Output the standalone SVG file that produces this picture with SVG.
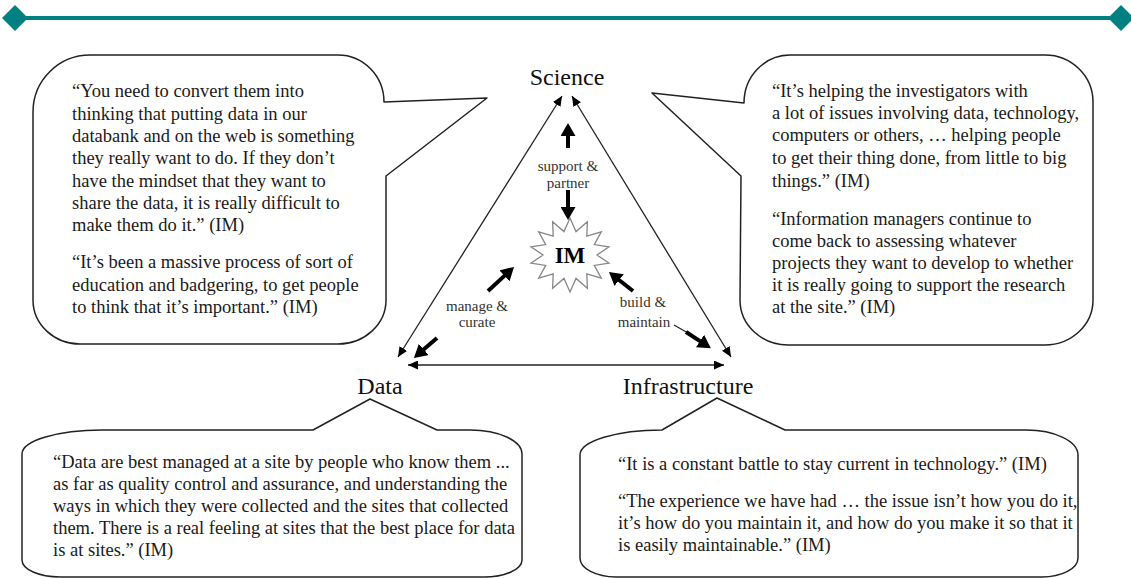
<svg xmlns="http://www.w3.org/2000/svg" width="1131" height="578" viewBox="0 0 1131 578">
<defs>
<style>
.callout{fill:#fff;stroke:#222;stroke-width:1.5;stroke-linejoin:round}
.q{font-family:"Liberation Serif","Times New Roman",serif;font-size:18.5px;fill:#1a1a1a}
.lbl{font-family:"Liberation Serif","Times New Roman",serif;font-size:24px;fill:#111;text-anchor:middle}
.sm{font-family:"Liberation Serif","Times New Roman",serif;font-size:15px;fill:#333;text-anchor:middle}
.thin{stroke:#222;stroke-width:1.3;fill:none}
.thick{stroke:#000;stroke-width:4;fill:none}
</style>
<marker id="ah" viewBox="0 0 10 9" refX="10" refY="4.5" markerWidth="10" markerHeight="9" markerUnits="userSpaceOnUse" orient="auto-start-reverse">
<path d="M0,0 L10,4.5 L0,9 z" fill="#000"/>
</marker>
<marker id="big" viewBox="0 0 13 15" refX="1" refY="7.5" markerWidth="13" markerHeight="15" markerUnits="userSpaceOnUse" orient="auto">
<path d="M0,0 L13,7.5 L0,15 z" fill="#000"/>
</marker>
</defs>
<rect width="1131" height="578" fill="#fff"/>
<g id="header">
<line x1="15" y1="18" x2="1121" y2="18" stroke="#008080" stroke-width="4"/>
<polygon points="15,5 28,18 15,31 2,18" fill="#008080"/>
<polygon points="1121,5 1134,18 1121,31 1108,18" fill="#008080"/>
</g>
<g id="callout-science-left">
<path class="callout" d="M90,55 L338,55 A46,47 0 0 1 384,102 L487,98 L386,176 L386,300 A48,44 0 0 1 338,344 L80,344 A47,44 0 0 1 33,300 L33,112 A57,57 0 0 1 90,55 Z"/>
<text class="q" x="72" y="97">“You need to convert them into</text>
<text class="q" x="72" y="119.5">thinking that putting data in our</text>
<text class="q" x="72" y="142">databank and on the web is something</text>
<text class="q" x="72" y="164">they really want to do. If they don’t</text>
<text class="q" x="72" y="186.5">have the mindset that they want to</text>
<text class="q" x="72" y="209">share the data, it is really difficult to</text>
<text class="q" x="72" y="231">make them do it.” (IM)</text>
<text class="q" x="72" y="268">“It’s been a massive process of sort of</text>
<text class="q" x="72" y="290.5">education and badgering, to get people</text>
<text class="q" x="72" y="313">to think that it’s important.” (IM)</text>
</g>
<g id="callout-science-right">
<path class="callout" d="M790,55 L1045,55 A48,47 0 0 1 1093,102 L1093,300 A48,45 0 0 1 1045,345 L788,345 A48,45 0 0 1 740,300 L741,176 L652,93 L744,103 A46,48 0 0 1 790,55 Z"/>
<text class="q" x="772" y="97">“It’s helping the investigators with</text>
<text class="q" x="772" y="119">a lot of issues involving data, technology,</text>
<text class="q" x="772" y="141">computers or others, … helping people</text>
<text class="q" x="772" y="164">to get their thing done, from little to big</text>
<text class="q" x="772" y="187">things.” (IM)</text>
<text class="q" x="772" y="225">“Information managers continue to</text>
<text class="q" x="772" y="247">come back to assessing whatever</text>
<text class="q" x="772" y="269">projects they want to develop to whether</text>
<text class="q" x="772" y="291">it is really going to support the research</text>
<text class="q" x="772" y="313">at the site.” (IM)</text>
</g>
<g id="callout-data">
<path class="callout" d="M22,454 A80,24 0 0 1 102,430 L313,430 L370,399 L437,430 L470,430 A52,24 0 0 1 522,454 L522,560 A38,17 0 0 1 484,577 L60,577 A38,17 0 0 1 22,560 Z"/>
<text class="q" x="53" y="468">“Data are best managed at a site by people who know them ...</text>
<text class="q" x="53" y="490">as far as quality control and assurance, and understanding the</text>
<text class="q" x="53" y="512">ways in which they were collected and the sites that collected</text>
<text class="q" x="53" y="534">them. There is a real feeling at sites that the best place for data</text>
<text class="q" x="53" y="556">is at sites.” (IM)</text>
</g>
<g id="callout-infrastructure">
<path class="callout" d="M580,455 A82,25 0 0 1 662,430 L717,398 L785,430 L1026,430 A52,25 0 0 1 1078,455 L1078,558 A36,19 0 0 1 1042,577 L616,577 A36,19 0 0 1 580,558 Z"/>
<text class="q" x="618" y="470">“It is a constant battle to stay current in technology.” (IM)</text>
<text class="q" x="618" y="507">“The experience we have had … the issue isn’t how you do it,</text>
<text class="q" x="618" y="529">it’s how do you maintain it, and how do you make it so that it</text>
<text class="q" x="618" y="551">is easily maintainable.” (IM)</text>
</g>
<g id="node-science"><text class="lbl" x="567" y="85">Science</text></g>
<g id="node-data"><text class="lbl" x="380" y="394">Data</text></g>
<g id="node-infrastructure"><text class="lbl" x="688" y="394">Infrastructure</text></g>
<g id="node-im">
<polygon points="570,218 576,231.6 587.4,221.7 586.8,236.2 601.3,231.9 594.3,244.6 609,246.8 597,255 609,263.2 594.3,265.4 601.3,278.1 586.8,273.8 587.4,288.3 576,278.4 570,292 564,278.4 552.6,288.3 553.2,273.8 538.7,278.1 545.7,265.4 531,263.2 543,255 531,246.8 545.7,244.6 538.7,231.9 553.2,236.2 552.6,221.7 564,231.6" fill="#fff" stroke="#888" stroke-width="1.3" stroke-linejoin="miter"/>
<text x="570" y="263" text-anchor="middle" font-family="Liberation Serif, Times New Roman, serif" font-size="23" font-weight="bold" fill="#000">IM</text>
</g>
<g id="connectors">
<line class="thin" x1="562" y1="96" x2="398" y2="357" marker-start="url(#ah)" marker-end="url(#ah)"/>
<line class="thin" x1="572" y1="96" x2="731" y2="357" marker-start="url(#ah)" marker-end="url(#ah)"/>
<line class="thin" x1="408" y1="365" x2="724" y2="365" marker-start="url(#ah)" marker-end="url(#ah)"/>
<line class="thick" x1="568" y1="148" x2="568" y2="135" marker-end="url(#big)"/>
<line class="thick" x1="568" y1="190" x2="568" y2="208" marker-end="url(#big)"/>
<line class="thick" x1="488" y1="291" x2="505.2" y2="275.1" marker-end="url(#big)"/>
<line class="thick" x1="437" y1="338" x2="423" y2="350.1" marker-end="url(#big)"/>
<line class="thick" x1="633" y1="291" x2="618.4" y2="279.5" marker-end="url(#big)"/>
<line class="thin" x1="674" y1="325" x2="688" y2="333"/>
<line class="thick" x1="686" y1="332" x2="700.8" y2="341.6" marker-end="url(#big)"/>
</g>
<g id="edge-labels">
<text class="sm" x="568" y="170.5">support &amp;</text>
<text class="sm" x="568" y="188">partner</text>
<text class="sm" x="477" y="311">manage &amp;</text>
<text class="sm" x="477" y="327">curate</text>
<text class="sm" x="643" y="307">build &amp;</text>
<text class="sm" x="644" y="327">maintain</text>
</g>
</svg>
